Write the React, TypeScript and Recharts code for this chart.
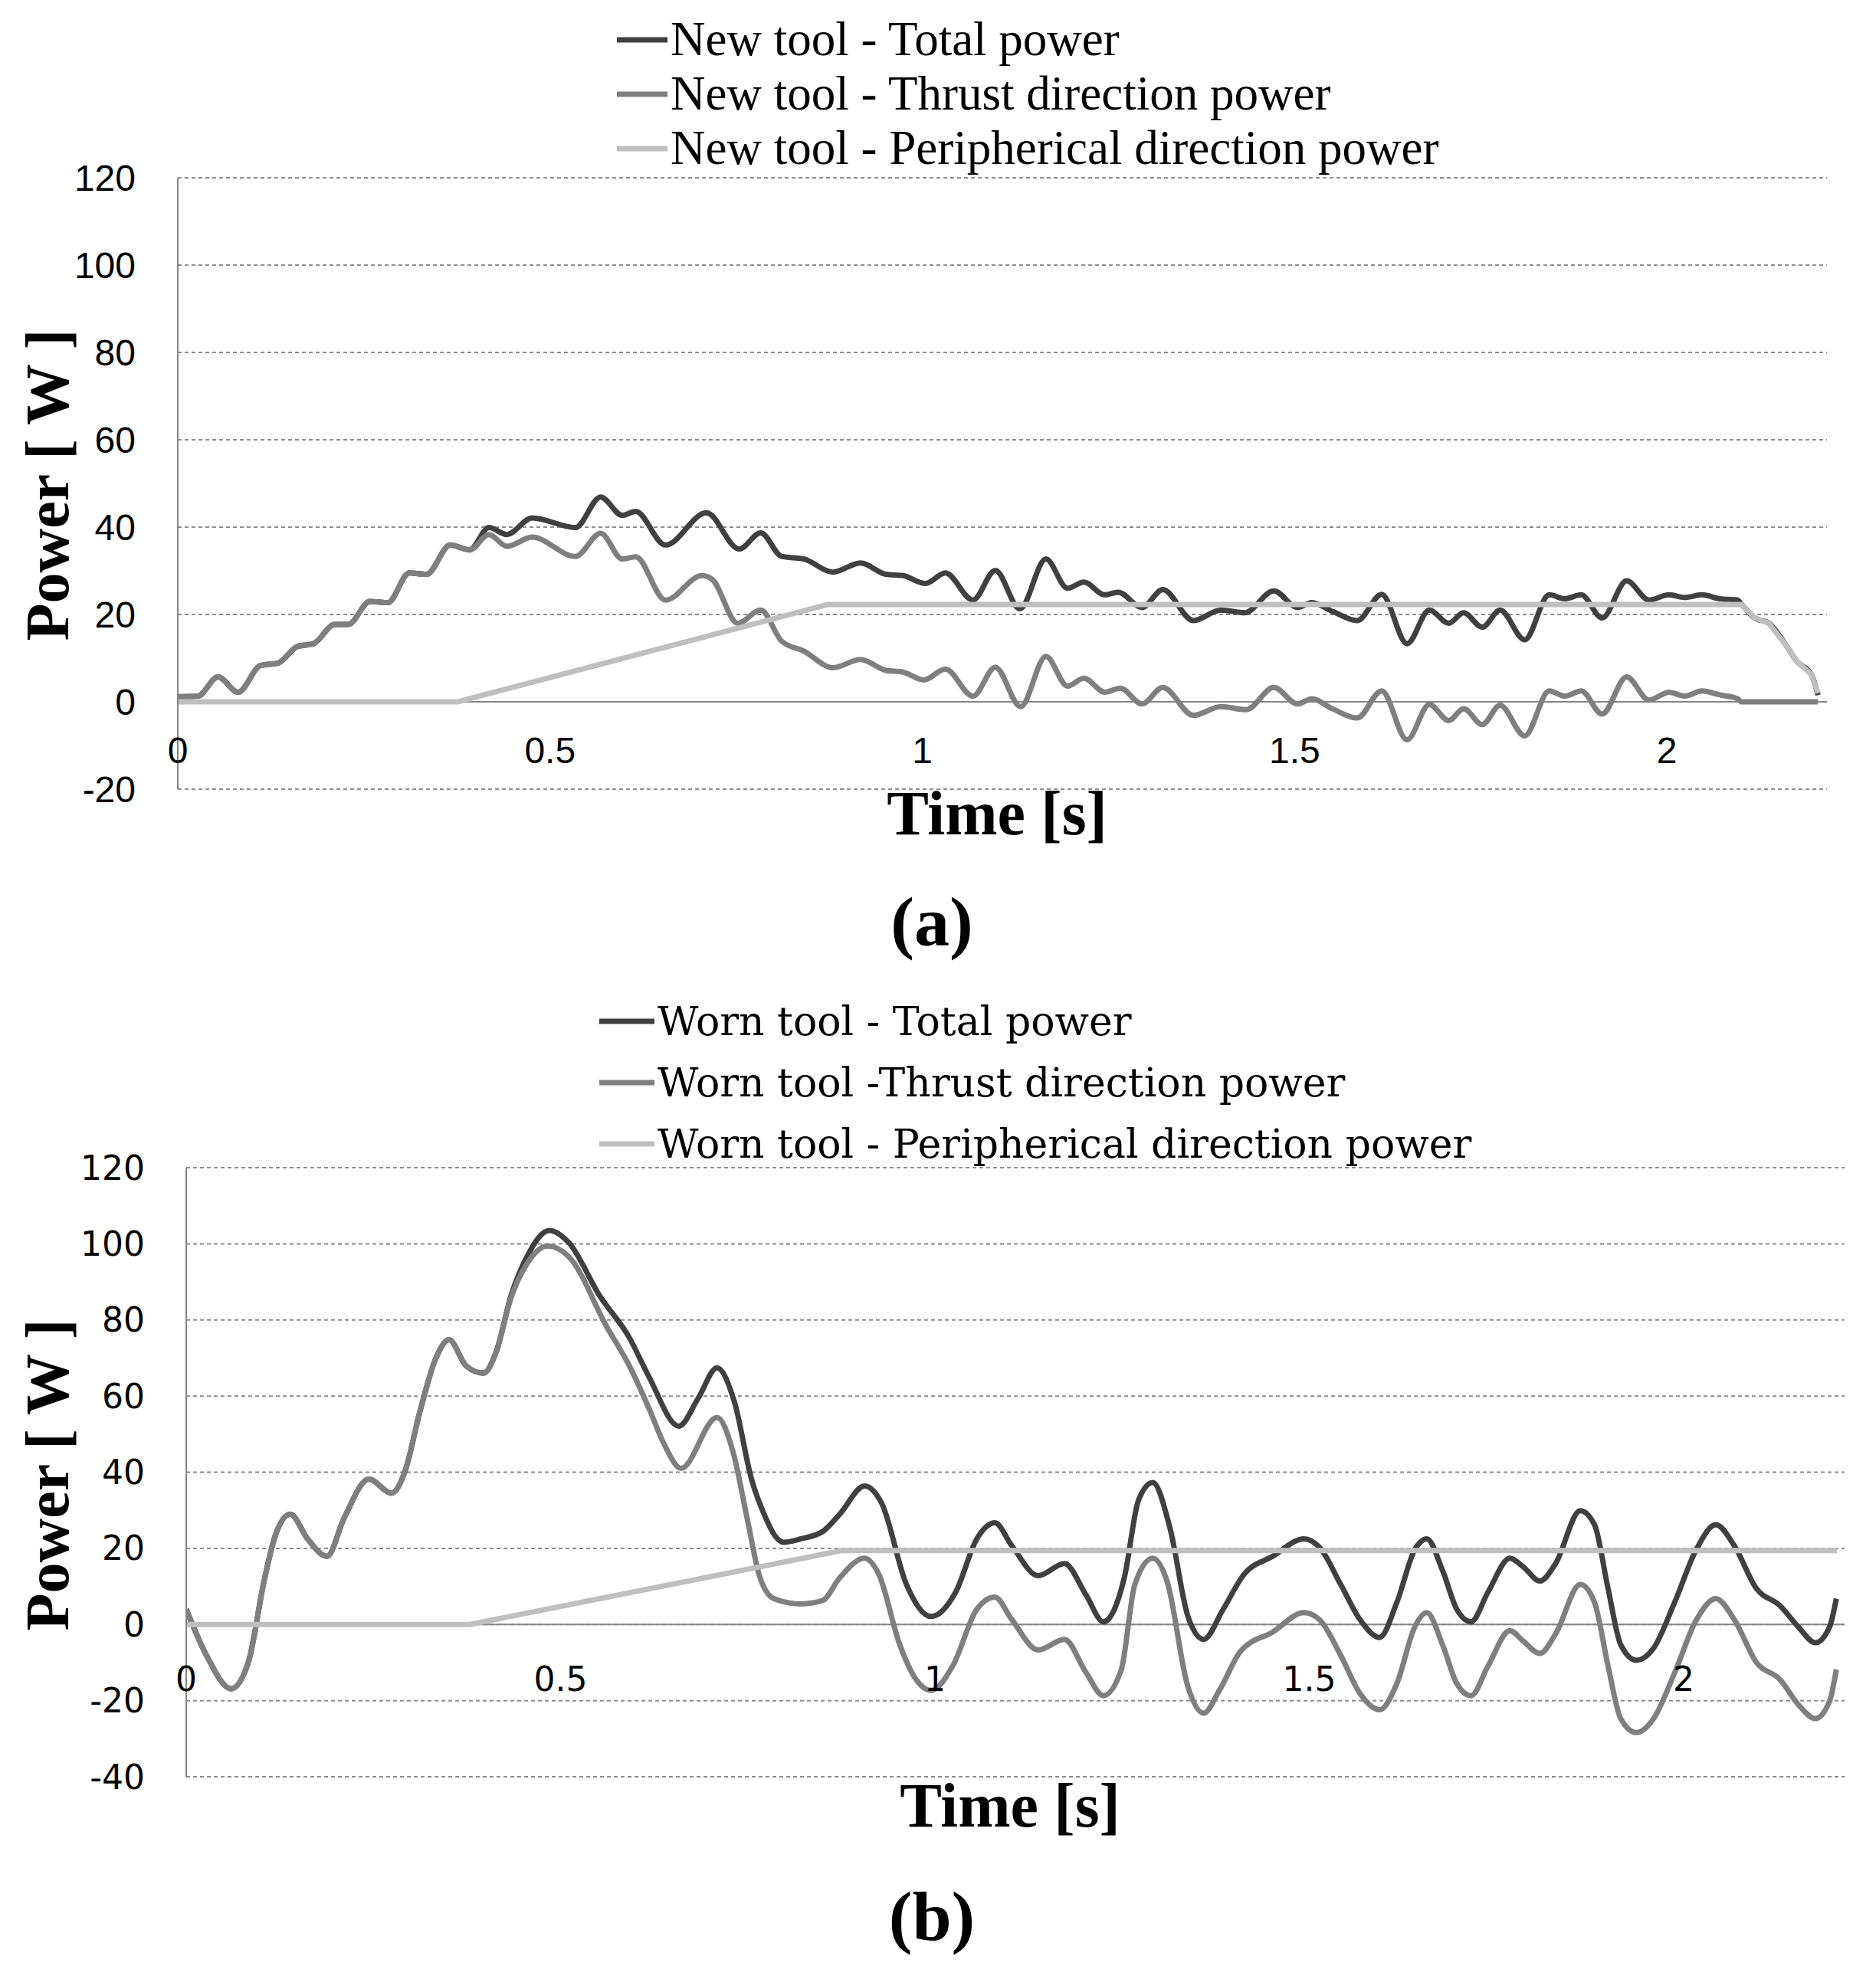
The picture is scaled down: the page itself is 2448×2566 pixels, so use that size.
import { CartesianGrid, Legend, Line, LineChart, ReferenceLine, XAxis, YAxis } from 'recharts';

// time [s], power [W]
const newTotal = [
  [0, 1.2], [0.027, 1.3], [0.054, 5.7], [0.081, 2.2], [0.111, 8.3], [0.135, 8.9], [0.161, 12.7],
  [0.182, 13.3], [0.211, 17.7], [0.229, 17.7], [0.258, 23], [0.282, 22.7], [0.311, 29.5], [0.334, 29.2],
  [0.366, 35.9], [0.392, 34.8], [0.418, 39.9], [0.442, 38.3], [0.476, 42.1], [0.534, 39.9], [0.568, 46.9],
  [0.597, 42.7], [0.615, 43.6], [0.655, 35.9], [0.71, 43.3], [0.754, 35], [0.783, 38.7], [0.811, 33.3],
  [0.841, 32.7], [0.88, 29.7], [0.917, 31.8], [0.951, 29.2], [0.974, 28.9], [1.004, 27.1], [1.031, 29.5],
  [1.068, 23.3], [1.098, 30.1], [1.131, 21.3], [1.166, 32.7], [1.195, 26], [1.217, 27.4], [1.245, 24.5],
  [1.263, 25.1], [1.295, 21.6], [1.323, 25.7], [1.364, 18.6], [1.401, 21], [1.433, 20.4], [1.472, 25.4],
  [1.504, 21.6], [1.523, 22.7], [1.551, 20.7], [1.584, 18.6], [1.617, 24.6], [1.651, 13.3], [1.681, 21],
  [1.707, 18], [1.727, 20.4], [1.752, 17.1], [1.776, 21], [1.809, 14.2], [1.842, 24.5], [1.863, 23.6],
  [1.885, 24.5], [1.913, 19.2], [1.946, 27.7], [1.976, 23.3], [2.003, 24.5], [2.024, 23.9], [2.047, 24.5],
  [2.071, 23.6], [2.095, 23.3], [2.1, 22.4], [2.118, 19.2], [2.137, 18], [2.161, 12.7], [2.175, 9.2],
  [2.194, 6.3], [2.203, 1.5],
];

const newThrust = [
  [0, 1.2], [0.027, 1.3], [0.054, 5.7], [0.081, 2.2], [0.111, 8.3], [0.135, 8.9], [0.161, 12.7],
  [0.182, 13.3], [0.211, 17.7], [0.229, 17.7], [0.258, 23], [0.282, 22.7], [0.311, 29.5], [0.334, 29.2],
  [0.366, 35.9], [0.392, 34.8], [0.418, 38.3], [0.442, 35.6], [0.476, 37.7], [0.534, 33.3], [0.568, 38.6],
  [0.597, 32.7], [0.615, 33.2], [0.655, 23.3], [0.704, 28.9], [0.718, 28], [0.752, 18], [0.783, 21],
  [0.811, 13.9], [0.841, 11.6], [0.88, 7.8], [0.917, 9.7], [0.951, 7.2], [0.974, 6.8], [1.002, 5],
  [1.031, 7.5], [1.068, 1.3], [1.098, 7.9], [1.132, -1.1], [1.166, 10.4], [1.195, 3.6], [1.217, 5.4],
  [1.245, 2.2], [1.266, 3.1], [1.295, -0.5], [1.323, 3.3], [1.364, -3.1], [1.401, -1.1], [1.435, -1.8],
  [1.472, 3.3], [1.504, -0.5], [1.523, 0.7], [1.551, -1.6], [1.584, -3.7], [1.617, 2.5], [1.651, -8.7],
  [1.681, -0.6], [1.707, -4.3], [1.727, -1.6], [1.752, -5.2], [1.776, -0.8], [1.809, -7.8], [1.842, 2.5],
  [1.863, 1.3], [1.885, 2.5], [1.913, -2.8], [1.946, 5.7], [1.976, 0.4], [2.003, 2.2], [2.024, 1.3],
  [2.047, 2.5], [2.071, 1.6], [2.095, 0.7], [2.1, 0], [2.203, 0],
];

const newPeripheral = [
  [0, 0], [0.376, 0], [0.873, 22.3], [2.1, 22.3], [2.118, 19.2], [2.137, 18], [2.161, 12.7],
  [2.175, 9.2], [2.194, 6.3], [2.203, 2],
];

const wornTotal = [
  [0, 4], [0.027, -8.1], [0.06, -16.9], [0.083, -9.9], [0.104, 11.4], [0.119, 23.4], [0.139, 29],
  [0.162, 22.5], [0.188, 17.9], [0.211, 28], [0.244, 38.2], [0.274, 34.5], [0.292, 40.1], [0.312, 55.8],
  [0.333, 69.7], [0.351, 74.8], [0.374, 67.9], [0.397, 66], [0.414, 71.6], [0.434, 86.5], [0.455, 96.6],
  [0.485, 103.5], [0.511, 100.3], [0.552, 86.4], [0.592, 75.3], [0.618, 65.1], [0.658, 52.1],
  [0.684, 59.5], [0.709, 67.4], [0.732, 58.6], [0.755, 38.2], [0.774, 28], [0.786, 23.4], [0.798, 21.6],
  [0.821, 22.5], [0.85, 24.4], [0.873, 29], [0.906, 36.4], [0.929, 31.8], [0.962, 10.5], [0.995, 2.1],
  [1.028, 8.6], [1.056, 22.5], [1.08, 26.7], [1.103, 20.6], [1.138, 12.8], [1.173, 16], [1.202, 7.7],
  [1.225, 0.7], [1.253, 12.3], [1.272, 32.7], [1.291, 37.3], [1.314, 25.3], [1.338, 2.1], [1.359, -3.9],
  [1.385, 4], [1.413, 13.2], [1.451, 17.9], [1.493, 22.5], [1.514, 20.2], [1.542, 10.5], [1.568, 1.2],
  [1.594, -3.4], [1.617, 5.8], [1.641, 19.7], [1.657, 22.5], [1.678, 14.2], [1.697, 4], [1.716, 0.7],
  [1.739, 8.6], [1.768, 17.4], [1.786, 15.1], [1.808, 11.4], [1.829, 16], [1.862, 29.9], [1.881, 26.2],
  [1.899, 9.5], [1.916, -5.3], [1.937, -9.4], [1.96, -6.2], [1.988, 5.8], [2.017, 19.7], [2.043, 26.2],
  [2.068, 20.6], [2.097, 9.5], [2.129, 4.9], [2.153, -0.6], [2.176, -4.8], [2.195, -0.6], [2.204, 6.8],
];

const wornThrust = [
  [0, 4], [0.027, -8.1], [0.06, -16.9], [0.083, -9.9], [0.104, 11.4], [0.119, 23.4], [0.139, 29],
  [0.162, 22.5], [0.188, 17.9], [0.211, 28], [0.244, 38.2], [0.274, 34.5], [0.292, 40.1], [0.312, 55.8],
  [0.333, 69.7], [0.351, 74.8], [0.374, 67.9], [0.397, 66], [0.414, 71.6], [0.434, 85.9], [0.455, 94.7],
  [0.483, 99.4], [0.511, 96.6], [0.562, 78.1], [0.592, 67.9], [0.618, 56.8], [0.638, 47.5], [0.661, 41],
  [0.709, 54.4], [0.73, 45.6], [0.75, 27.1], [0.765, 13.2], [0.785, 6.8], [0.821, 5.4], [0.85, 6.3],
  [0.873, 12.3], [0.906, 17.4], [0.925, 13.2], [0.953, -5.3], [0.972, -13.6], [0.995, -17.3],
  [1.024, -10.8], [1.056, 4], [1.08, 7.2], [1.103, 1.2], [1.138, -6.7], [1.173, -3.9], [1.202, -12.7],
  [1.225, -18.7], [1.249, -11.8], [1.267, 10.5], [1.291, 17.4], [1.31, 11.4], [1.338, -16.4],
  [1.359, -23.3], [1.38, -17.3], [1.408, -7.1], [1.451, -2], [1.493, 3.1], [1.514, 1.2], [1.542, -8.1],
  [1.568, -18.2], [1.594, -22.4], [1.617, -15.5], [1.641, -0.6], [1.657, 3.1], [1.678, -5.3],
  [1.697, -15.5], [1.716, -18.7], [1.739, -10.8], [1.768, -1.6], [1.786, -4.4], [1.808, -7.6],
  [1.829, -2.5], [1.862, 10.5], [1.881, 5.8], [1.899, -10.8], [1.916, -24.7], [1.937, -28.4],
  [1.96, -24.7], [1.988, -12.7], [2.017, 1.2], [2.043, 6.8], [2.068, 1.2], [2.097, -9.9], [2.129, -14.5],
  [2.153, -21], [2.176, -24.7], [2.195, -20.1], [2.204, -11.8],
];

const wornPeripheral = [[0, 0], [0.379, 0], [0.875, 19.4], [2.205, 19.4]];

const newNames = ['New tool - Total power', 'New tool - Thrust direction power', 'New tool - Peripherical direction power'];
const wornNames = ['Worn tool - Total power', 'Worn tool -Thrust direction power', 'Worn tool - Peripherical direction power'];
const seriesColors = ['#404040', '#7f7f7f', '#bfbfbf'];
const curveTypes = ['monotone', 'monotone', 'linear'] as const;
const timeTicks = [0, 0.5, 1, 1.5, 2];
const newPowerTicks = [-20, 0, 20, 40, 60, 80, 100, 120];
const wornPowerTicks = [-40, -20, 0, 20, 40, 60, 80, 100, 120];
const timeMax = 2.215;

const toPoints = (rows: number[][]) => rows.map(([t, p]) => ({ t, p }));

const serif = '"Liberation Serif", "Times New Roman", serif';
const gridGray = '#8c8c8c';
const axisGray = '#868686';
const xAxisHeight = 40;

type PanelProps = {
  top: number;
  height: number;
  plotTop: number;
  plotBottom: number;
  left: number;
  right: number;
  yTicks: number[];
  series: number[][][];
  names: string[];
  legend: { left: number; top: number; rowHeight: number; icon: number; font: string; size: number };
  tickFont: string;
  tickSize: number;
  tickGap: number;
  xLabelDrop: number;
};

function Panel(props: PanelProps) {
  const { top, height, plotTop, plotBottom, left, right, yTicks, series, names, legend } = props;
  const yMin = yTicks[0];
  const yMax = yTicks[yTicks.length - 1];
  // pixel distance from the plot bottom up to the zero line, where Excel put the time labels
  const zeroLift = (-yMin / (yMax - yMin)) * (plotBottom - plotTop);

  const renderLegend = () => (
    <div style={{ fontFamily: legend.font, fontSize: legend.size, color: '#000' }}>
      {names.map((name, i) => (
        <div key={name} style={{ display: 'flex', alignItems: 'center', height: legend.rowHeight, whiteSpace: 'nowrap' }}>
          <svg width={legend.icon} height={10} style={{ marginRight: 4 }}>
            <line x1={0} x2={legend.icon} y1={5} y2={5} stroke={seriesColors[i]} strokeWidth={7} />
          </svg>
          <span>{name}</span>
        </div>
      ))}
    </div>
  );

  const xTick = (p: any) => (
    <text
      x={p.x}
      y={p.y - zeroLift + props.xLabelDrop}
      textAnchor="middle"
      dominantBaseline="central"
      fontFamily={props.tickFont}
      fontSize={props.tickSize}
      fill="#000"
    >
      {p.payload.value}
    </text>
  );

  const yTick = (p: any) => (
    <text
      x={p.x - props.tickGap}
      y={p.y}
      textAnchor="end"
      dominantBaseline="central"
      fontFamily={props.tickFont}
      fontSize={props.tickSize}
      fill="#000"
    >
      {p.payload.value}
    </text>
  );

  return (
    <div style={{ position: 'absolute', left: 0, top }}>
      <LineChart
        width={2448}
        height={height}
        margin={{ top: plotTop, right: 2448 - right, bottom: height - plotBottom - xAxisHeight, left: 0 }}
      >
        <CartesianGrid horizontal vertical={false} stroke={gridGray} strokeWidth={2} strokeDasharray="5 4" />
        <XAxis
          type="number"
          dataKey="t"
          domain={[0, timeMax]}
          ticks={timeTicks}
          interval={0}
          allowDataOverflow
          axisLine={false}
          tickLine={false}
          tickSize={0}
          tickMargin={0}
          height={xAxisHeight}
          tick={xTick}
        />
        <YAxis
          type="number"
          domain={[yMin, yMax]}
          ticks={yTicks}
          interval={0}
          width={left}
          axisLine={{ stroke: axisGray, strokeWidth: 2 }}
          tickLine={false}
          tickSize={0}
          tickMargin={0}
          tick={yTick}
        />
        <ReferenceLine y={0} stroke={axisGray} strokeWidth={2} />
        <Legend
          layout="vertical"
          align="center"
          verticalAlign="middle"
          wrapperStyle={{ left: legend.left, top: legend.top, width: 'auto' }}
          content={renderLegend}
        />
        {series.map((rows, i) => (
          <Line
            key={names[i]}
            name={names[i]}
            data={toPoints(rows)}
            dataKey="p"
            type={curveTypes[i]}
            stroke={seriesColors[i]}
            strokeWidth={7}
            dot={false}
            activeDot={false}
            isAnimationActive={false}
          />
        ))}
      </LineChart>
    </div>
  );
}

function Title({ x, y, size, rotate, children }: { x: number; y: number; size: number; rotate?: boolean; children: string }) {
  return (
    <div
      style={{
        position: 'absolute',
        left: x,
        top: y,
        transform: `translate(-50%, -50%)${rotate ? ' rotate(-90deg)' : ''}`,
        fontFamily: serif,
        fontWeight: 'bold',
        fontSize: size,
        lineHeight: 1,
        whiteSpace: 'nowrap',
        color: '#000',
      }}
    >
      {children}
    </div>
  );
}

export default function App() {
  return (
    <div style={{ position: 'absolute', left: 0, top: 0, width: 2448, height: 2566, background: '#fff', overflow: 'hidden' }}>
      <Panel
        top={0}
        height={1140}
        plotTop={232}
        plotBottom={1030}
        left={232}
        right={2384}
        yTicks={newPowerTicks}
        series={[newTotal, newThrust, newPeripheral]}
        names={newNames}
        legend={{ left: 805, top: 16, rowHeight: 71, icon: 66, font: serif, size: 63 }}
        tickFont='"Liberation Sans", Arial, sans-serif'
        tickSize={48}
        tickGap={55}
        xLabelDrop={63}
      />
      <Panel
        top={1250}
        height={1150}
        plotTop={274}
        plotBottom={1069}
        left={243}
        right={2407}
        yTicks={wornPowerTicks}
        series={[wornTotal, wornThrust, wornPeripheral]}
        names={wornNames}
        legend={{ left: 782, top: 43, rowHeight: 80, icon: 72, font: '"DejaVu Serif", serif', size: 52 }}
        tickFont='"DejaVu Sans", sans-serif'
        tickSize={44}
        tickGap={54}
        xLabelDrop={71}
      />
      <Title x={62} y={633} size={80} rotate>Power [ W ]</Title>
      <Title x={1301} y={1062} size={82}>Time [s]</Title>
      <Title x={1216} y={1203} size={92}>(a)</Title>
      <Title x={62} y={1925} size={80} rotate>Power [ W ]</Title>
      <Title x={1318} y={2357} size={82}>Time [s]</Title>
      <Title x={1216} y={2501} size={92}>(b)</Title>
    </div>
  );
}
